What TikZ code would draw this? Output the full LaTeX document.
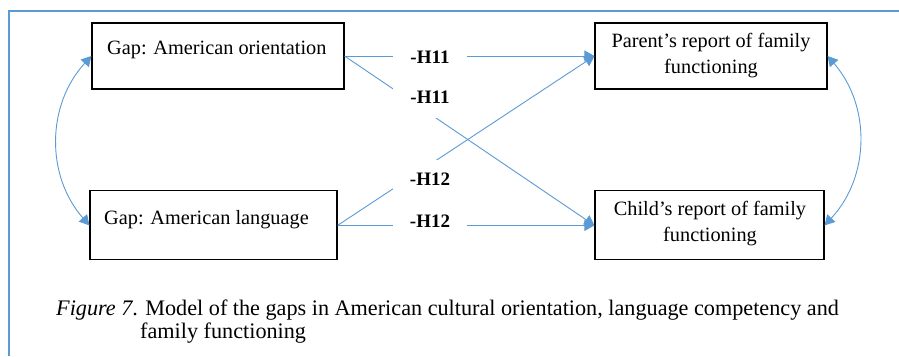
\documentclass[tikz,border=0pt]{standalone}
\usepackage{fontspec}
\setmainfont{Liberation Serif}
\usetikzlibrary{arrows.meta}
\definecolor{linkblue}{HTML}{5B9BD5}
\begin{document}
\begin{tikzpicture}[x=1pt,y=-1pt,
  box/.style={draw=black,line width=1.1pt,rectangle,inner sep=0pt},
  boxtext/.style={inner sep=0pt,font=\fontsize{20.3}{26}\selectfont},
  hyp/.style={fill=white,inner sep=0pt,minimum width=74pt,minimum height=40pt,
    font=\fontsize{19}{22}\selectfont\bfseries},
  tip/.tip={Triangle[length=10pt,width=11pt]},
  link/.style={draw=linkblue,line width=0.9pt,-tip},
  both/.style={draw=linkblue,line width=0.9pt,tip-tip},
  captext/.style={anchor=base west,inner sep=0pt,font=\fontsize{22.2}{23}\selectfont}
]
\useasboundingbox (0,0) rectangle (899,356);
\fill[white] (0,0) rectangle (899,356);

% frame
\draw[linkblue,line width=1.5pt] (9,356) -- (9,11) -- (899,11);

% boxes
\node[box,minimum width=252pt,minimum height=66pt] (orient) at (218,56) {};
\node[box,minimum width=247pt,minimum height=69pt] (lang) at (213.5,225.4) {};
\node[box,minimum width=232pt,minimum height=66pt] (parent) at (711,56) {};
\node[box,minimum width=229pt,minimum height=69pt] (child) at (709.5,225.4) {};

% box texts
\node[boxtext,anchor=base west] (orient-t) at (107,54) {Gap: American orientation};
\node[boxtext,anchor=base west] (lang-t) at (104,224) {Gap: American language};
\node[boxtext,anchor=north,align=center] (parent-t) at (711,33) {Parent’s report of family\\functioning};
\node[boxtext,anchor=north,align=center] (child-t) at (710,201) {Child’s report of family\\functioning};

% paths
\draw[link] (orient.east) -- (parent.west);
\draw[link] (orient.east) -- (child.west);
\draw[link] (lang.east) -- (parent.west);
\draw[link] (lang.east) -- (child.west);
\draw[both] (orient.west) to[bend right=42] (lang.west);
\draw[both] (parent.east) to[bend left=42] (child.east);

% path labels
\node[hyp] (h11a) at (430,57.5) {-H11};
\node[hyp] (h11b) at (430,97.5) {-H11};
\node[hyp] (h12a) at (430,179.7) {-H12};
\node[hyp] (h12b) at (430,221.7) {-H12};

% caption
\node[captext] (cap1) at (56,315) {\textit{Figure 7}. Model of the gaps in American cultural orientation, language competency and};
\node[captext] (cap2) at (140,338) {family functioning};
\end{tikzpicture}
\end{document}
